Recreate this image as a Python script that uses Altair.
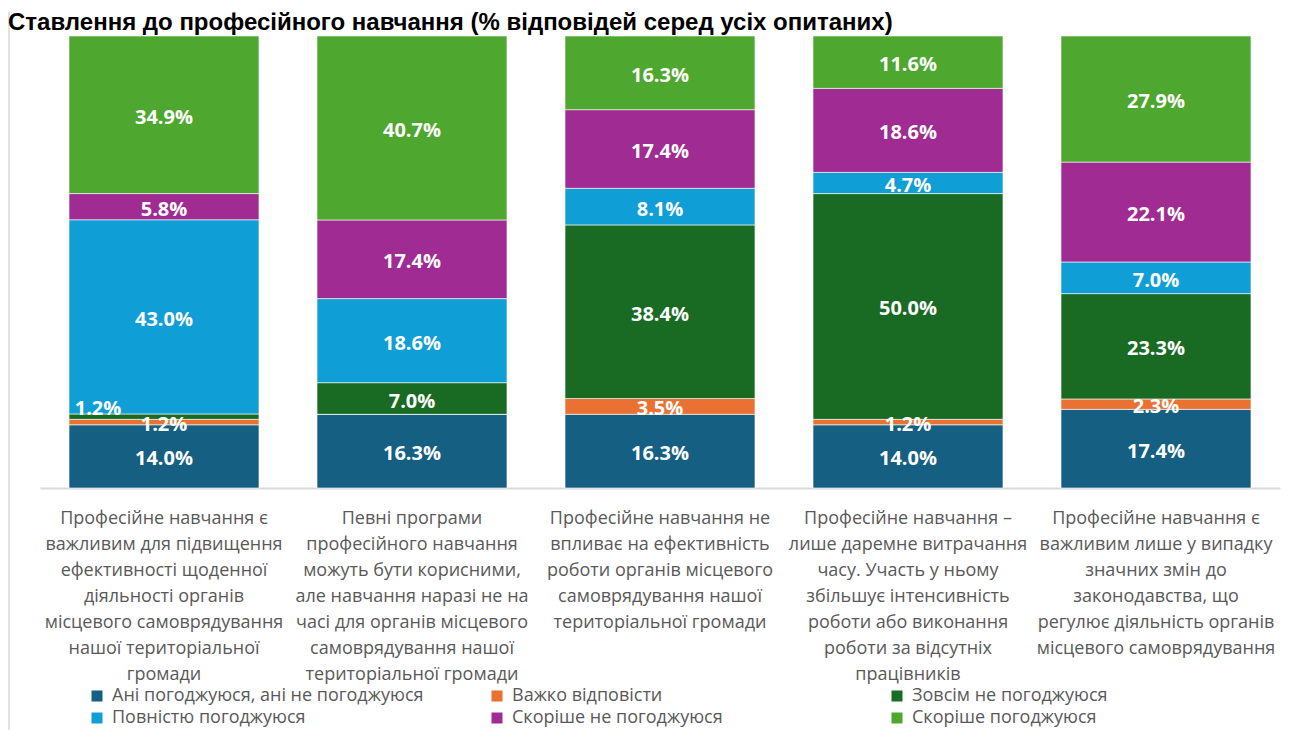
import altair as alt
import pandas as pd

title_text = "Ставлення до професійного навчання (% відповідей серед усіх опитаних)"

categories = [
    "Професійне навчання є|важливим для підвищення|ефективності щоденної|діяльності органів|місцевого самоврядування|нашої територіальної|громади",
    "Певні програми|професійного навчання|можуть бути корисними,|але навчання наразі не на|часі для органів місцевого|самоврядування нашої|територіальної громади",
    "Професійне навчання не|впливає на ефективність|роботи органів місцевого|самоврядування нашої|територіальної громади",
    "Професійне навчання –|лише даремне витрачання|часу. Участь у ньому|збільшує інтенсивність|роботи або виконання|роботи за відсутніх|працівників",
    "Професійне навчання є|важливим лише у випадку|значних змін до|законодавства, що|регулює діяльність органів|місцевого самоврядування",
]

series = [
    "Ані погоджуюся, ані не погоджуюся",
    "Важко відповісти",
    "Зовсім не погоджуюся",
    "Повністю погоджуюся",
    "Скоріше не погоджуюся",
    "Скоріше погоджуюся",
]
colors = ["#156082", "#E97132", "#196B24", "#0F9ED5", "#A02B93", "#4EA72E"]

neither = [14.0, 16.3, 16.3, 14.0, 17.4]
hard_to_say = [1.2, 0.0, 3.5, 1.2, 2.3]
strongly_disagree = [1.2, 7.0, 38.4, 50.0, 23.3]
strongly_agree = [43.0, 18.6, 8.1, 4.7, 7.0]
rather_disagree = [5.8, 17.4, 17.4, 18.6, 22.1]
rather_agree = [34.9, 40.7, 16.3, 11.6, 27.9]

values = [neither, hard_to_say, strongly_disagree, strongly_agree, rather_disagree, rather_agree]

# label moved aside in the original (category index, series index)
moved_labels = [(0, 2)]

rows = []
for si, s in enumerate(series):
    for ci, c in enumerate(categories):
        rows.append({
            "cat": c,
            "series": s,
            "order": si,
            "value": values[si][ci],
            "moved": (ci, si) in moved_labels,
        })
df = pd.DataFrame(rows)

FONT = "Open Sans"

base = alt.Chart(df).transform_stack(
    stack="value",
    groupby=["cat"],
    as_=["y0", "y1"],
    offset="normalize",
    sort=[alt.SortField("order", order="ascending")],
)

x_enc = alt.X(
    "cat:N",
    sort=categories,
    scale=alt.Scale(paddingInner=0.234, paddingOuter=0.117),
    axis=alt.Axis(
        title=None,
        labelAngle=0,
        labelExpr="split(datum.label, '|')",
        labelFontSize=18,
        labelFont=FONT,
        labelColor="#595959",
        labelLineHeight=26,
        labelPadding=21,
        labelBaseline="top",
        labelLimit=400,
        ticks=False,
        tickSize=0,
        domainColor="#d9d9d9",
        domainWidth=2,
    ),
)

bars = base.mark_bar(stroke="white", strokeWidth=0.6).encode(
    x=x_enc,
    y=alt.Y("y0:Q", scale=alt.Scale(domain=[0, 1]), axis=None),
    y2="y1:Q",
    color=alt.Color(
        "series:N",
        scale=alt.Scale(domain=series, range=colors),
        legend=alt.Legend(
            title=None,
            orient="none",
            direction="horizontal",
            legendX=48,
            legendY=651,
            columns=3,
            gridAlign="all",
            columnPadding=64,
            rowPadding=4,
            symbolType="square",
            symbolSize=121,
            symbolStrokeWidth=0,
            labelFontSize=18,
            labelFont=FONT,
            labelColor="#595959",
            labelLimit=500,
            labelOffset=6,
            padding=0,
        ),
    ),
)

labels_base = base.transform_filter("datum.value > 0").transform_calculate(
    mid="(datum.y0 + datum.y1) / 2",
    label="format(datum.value, '.1f') + '%'",
)

text_normal = labels_base.transform_filter("!datum.moved").mark_text(
    color="white", fontWeight="bold", fontSize=20, font=FONT, baseline="middle", dy=3
).encode(
    x=alt.X("cat:N", sort=categories),
    y=alt.Y("mid:Q"),
    text="label:N",
)

text_moved = labels_base.transform_filter("datum.moved").mark_text(
    color="white", fontWeight="bold", fontSize=20, font=FONT, baseline="middle", dx=-66, dy=-8
).encode(
    x=alt.X("cat:N", sort=categories),
    y=alt.Y("mid:Q"),
    text="label:N",
)

frame = alt.Chart(pd.DataFrame({"k": [0]})).mark_rule(color="#d9d9d9", strokeWidth=1.5).encode(
    x=alt.value(-31), y=alt.value(-24), y2=alt.value(720)
)

title = alt.Chart(pd.DataFrame({"t": [title_text]})).mark_text(
    align="left", baseline="alphabetic", fontSize=24, fontWeight="bold",
    font="Liberation Sans", color="black"
).encode(
    x=alt.value(-32), y=alt.value(-6), text="t:N"
)

chart = alt.layer(frame, bars, text_normal, text_moved, title).properties(
    width=1240,
    height=452,
    autosize=alt.AutoSizeParams(type="none"),
    padding={"left": 32, "top": 28, "right": 8, "bottom": 242},
).configure_view(stroke=None)

chart.save("out.html", embed_options={"renderer": "svg", "actions": False})
